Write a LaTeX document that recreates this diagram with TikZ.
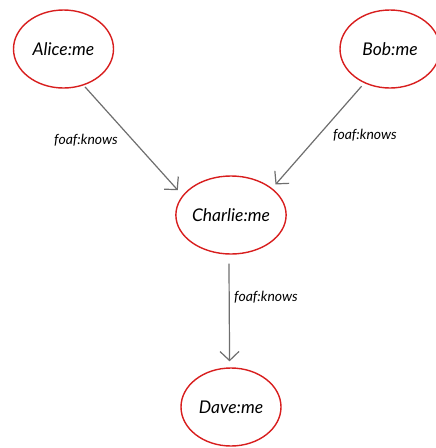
\documentclass[tikz,border=0pt]{standalone}
\usepackage{fontspec}
\setmainfont{Lato}
\usetikzlibrary{arrows.meta,shapes.geometric}
\definecolor{ringred}{HTML}{D81E1E}
\definecolor{linkgray}{HTML}{6E6E6E}
\tikzset{
  resource/.style={ellipse, draw=ringred, line width=1.4pt, fill=white,
    minimum width=100pt, minimum height=78pt, inner sep=0pt,
    font=\fontsize{17.5}{20}\selectfont\itshape},
  link/.style={draw=linkgray, line width=1.2pt,
    -{Straight Barb[length=9pt,width=19pt,line width=1.2pt]}},
  predicate/.style={font=\fontsize{14}{16}\selectfont\itshape, inner sep=0pt}
}
\begin{document}
\begin{tikzpicture}[x=1pt,y=-1pt]
  \useasboundingbox (0,0) rectangle (436,448);
  % resources
  \node[resource] (alice)   at (63.5,49)  {Alice:me};
  \node[resource] (bob)     at (390,49)   {Bob:me};
  \node[resource] (charlie) at (231,215)  {Charlie:me};
  \node[resource] (dave)    at (231,407)  {Dave:me};
  % foaf:knows links
  \draw[link, shorten <=2pt, shorten >=7pt] (alice.-61) -- (charlie.158);
  \draw[link, shorten <=4pt, shorten >=5pt] (bob.-127) -- (charlie.33);
  \draw[link, shorten <=9pt, shorten >=6pt] (charlie.-93) -- (dave.92);
  % link labels
  \node[predicate] (k1) at (86,140)  {foaf:knows};
  \node[predicate] (k2) at (365,135) {foaf:knows};
  \node[predicate] (k3) at (266,297) {foaf:knows};
\end{tikzpicture}
\end{document}
